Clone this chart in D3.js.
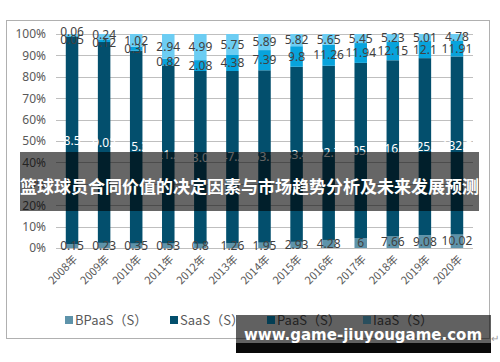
<!DOCTYPE html>
<html>
<head>
<meta charset="utf-8">
<script src="https://cdn.jsdelivr.net/npm/d3@7"></script>
<style>
  body { margin: 0; background: #fff; }
  svg { display: block; font-family: "Noto Sans", "Noto Sans CJK SC", sans-serif; }
</style>
</head>
<body>
<div id="chart"></div>
<script>
// categories and series values (stacked to 100%)
var years = ['2008年', '2009年', '2010年', '2011年', '2012年', '2013年', '2014年',
             '2015年', '2016年', '2017年', '2018年', '2019年', '2020年'];
var bpaas = [0.15, 0.23, 0.35, 0.53, 0.8, 1.26, 1.95, 2.93, 4.28, 6, 7.66, 9.08, 10.02];
var saas  = [8.5, 9.02, 15.3, 21.2, 33.02, 47.2, 63.1, 83.4, 92.7, 105.5, 116.5, 125.5, 132.5];
var paas  = [0.05, 0.12, 0.31, 0.82, 2.08, 4.38, 7.39, 9.8, 11.26, 11.94, 12.15, 12.1, 11.91];
var iaas  = [0.06, 0.24, 1.02, 2.94, 4.99, 5.75, 5.89, 5.82, 5.65, 5.45, 5.23, 5.01, 4.78];
var seriesNames = ['BPaaS（S）', 'SaaS（S）', 'PaaS（S）', 'IaaS（S）'];
var yTicks = [0, 0.1, 0.2, 0.3, 0.4, 0.5, 0.6, 0.7, 0.8, 0.9, 1];

var title = '篮球球员合同价值的决定因素与市场趋势分析及未来发展预测';
var site = 'www.game-jiuyougame.com';

var colors = ['#5e93aa', '#034f6d', '#08a3dc', '#6ccdf3'];
var labelColors = ['#404040', '#ffffff', '#404040', '#404040'];

//Width and height
var w = 500;
var h = 362;

var svg = d3.select('#chart')
            .append('svg')
            .attr('width', w)
            .attr('height', h);

//chart frame
svg.append('rect')
  .attr('x', 6.5).attr('y', 20.5)
  .attr('width', 483).attr('height', 318)
  .attr('fill', '#fff')
  .attr('stroke', '#b0b0b0');

//table built from the arrays
var keys = ['bpaas', 'saas', 'paas', 'iaas'];
var table = years.map(function (y, i) {
  return { year: y, bpaas: bpaas[i], saas: saas[i], paas: paas[i], iaas: iaas[i] };
});

var stack = d3.stack().keys(keys).offset(d3.stackOffsetExpand);
var layers = stack(table);

var x = d3.scaleBand()
  .domain(years)
  .range([56, 473])
  .paddingInner(0.61)
  .paddingOuter(0.305);

var y = d3.scaleLinear()
  .domain([0, 1])
  .range([248, 34]);

//gridlines
svg.append('g')
  .selectAll('line')
  .data(yTicks)
  .enter()
  .append('line')
  .attr('x1', 56).attr('x2', 473)
  .attr('y1', function (d) { return Math.round(y(d)) + 0.5; })
  .attr('y2', function (d) { return Math.round(y(d)) + 0.5; })
  .attr('stroke', '#bfbfbf');

//y axis labels
var yAxis = d3.axisLeft(y)
  .tickValues(yTicks)
  .tickFormat(d3.format('.0%'))
  .tickSize(0)
  .tickPadding(0);

var gy = svg.append('g')
  .attr('transform', 'translate(46,0)')
  .call(yAxis);
gy.select('.domain').remove();
gy.selectAll('text')
  .attr('fill', '#595959')
  .style('font-size', '12px')
  .style('font-family', '"Noto Sans", sans-serif');

//bars
var groups = svg.append('g')
  .selectAll('g')
  .data(layers)
  .enter()
  .append('g')
  .attr('fill', function (d, i) { return colors[i]; });

groups.selectAll('rect')
  .data(function (d) { return d; })
  .enter()
  .append('rect')
  .attr('x', function (d) { return x(d.data.year); })
  .attr('y', function (d) { return y(d[1]); })
  .attr('width', x.bandwidth())
  .attr('height', function (d) { return y(d[0]) - y(d[1]); });

//label centres, then push apart the two top labels when they crowd
var labelY = layers.map(function (layer) {
  return layer.map(function (d) { return (y(d[0]) + y(d[1])) / 2; });
});
years.forEach(function (yr, i) {
  var gap = labelY[2][i] - labelY[3][i];
  if (gap < 8) {
    var mid = (labelY[2][i] + labelY[3][i]) / 2;
    labelY[3][i] = mid - 4;
    labelY[2][i] = mid + 4;
  }
});

//data labels
layers.forEach(function (layer, li) {
  svg.append('g')
    .selectAll('text')
    .data(layer)
    .enter()
    .append('text')
    .attr('x', function (d) { return x(d.data.year) + x.bandwidth() / 2; })
    .attr('y', function (d, i) { return labelY[li][i]; })
    .attr('dy', '0.35em')
    .attr('text-anchor', 'middle')
    .attr('fill', labelColors[li])
    .style('font-size', '12px')
    .text(function (d) { return String(d.data[layer.key]); });
});

//x axis labels
var xAxis = d3.axisBottom(x).tickSize(0).tickPadding(0);
var gx = svg.append('g')
  .attr('transform', 'translate(0,248)')
  .call(xAxis);
gx.select('.domain').remove();
gx.selectAll('text')
  .attr('fill', '#595959')
  .style('font-size', '11px')
  .style('font-family', '"Noto Sans CJK SC", sans-serif')
  .attr('text-anchor', 'end')
  .attr('dy', 0)
  .attr('transform', 'translate(6,12) rotate(-45)');

//legend
var legendX = [65, 170, 267, 363];
var legend = svg.append('g')
  .selectAll('g')
  .data(seriesNames)
  .enter()
  .append('g')
  .attr('transform', function (d, i) { return 'translate(' + legendX[i] + ',320)'; });

legend.append('rect')
  .attr('x', 0).attr('y', -4)
  .attr('width', 8).attr('height', 8)
  .attr('fill', function (d, i) { return colors[i]; });

legend.append('text')
  .attr('x', 10)
  .attr('dy', '0.35em')
  .attr('fill', '#595959')
  .style('font-size', '13px')
  .style('font-family', '"Noto Sans CJK SC", sans-serif')
  .text(function (d) { return d; });

//paragraph mark
svg.append('text')
  .attr('x', 491).attr('y', 342)
  .attr('fill', '#999')
  .style('font-size', '10px')
  .text('↵');

//title banner
svg.append('rect')
  .attr('x', 20).attr('y', 152)
  .attr('width', 459).attr('height', 59)
  .attr('fill', 'rgba(0,0,0,0.6)');

svg.append('text')
  .attr('x', 249.5).attr('y', 187)
  .attr('dy', '0.35em')
  .attr('text-anchor', 'middle')
  .attr('fill', '#fff')
  .style('font-size', '17px')
  .style('font-weight', 'bold')
  .style('font-family', '"Noto Sans CJK SC", sans-serif')
  .text(title);

//watermark banner
svg.append('rect')
  .attr('x', 236).attr('y', 315)
  .attr('width', 255).attr('height', 38)
  .attr('fill', 'rgba(0,0,0,0.62)');
svg.append('rect')
  .attr('x', 236).attr('y', 343)
  .attr('width', 255).attr('height', 10)
  .attr('fill', 'rgba(0,0,0,0.9)');

svg.append('text')
  .attr('x', 363).attr('y', 340)
  .attr('text-anchor', 'middle')
  .attr('fill', '#fff')
  .style('font-size', '15px')
  .style('font-weight', 'bold')
  .style('font-family', '"DejaVu Sans", sans-serif')
  .text(site);
</script>
</body>
</html>
